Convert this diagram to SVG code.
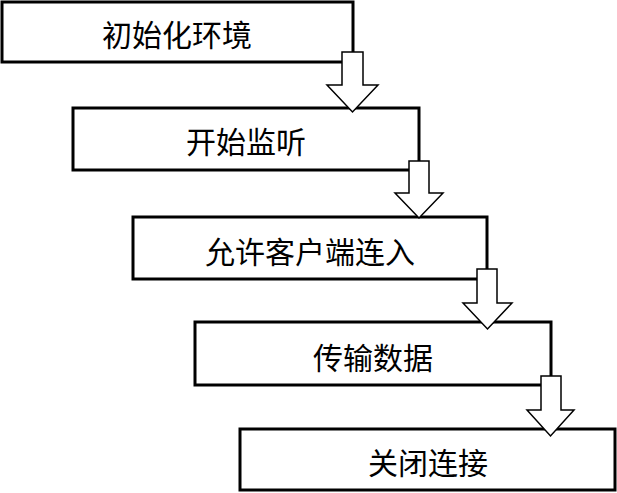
<svg xmlns="http://www.w3.org/2000/svg" width="617" height="493" viewBox="0 0 617 493">
<style>
.box{fill:#fff;stroke:#000;stroke-width:3}
.arr{fill:#fff;stroke:#000;stroke-width:1.5;stroke-linejoin:miter}
.t{font-family:"Liberation Serif","Noto Sans CJK SC",serif;font-size:30px;fill:#000;text-anchor:middle}
</style>
<rect width="617" height="493" fill="#fff"/>
<g id="n1"><rect class="box" x="2" y="2" width="351" height="60"/><text class="t" x="177" y="46">初始化环境</text></g>
<g id="n2"><rect class="box" x="73" y="108" width="346" height="62"/><text class="t" x="246" y="153">开始监听</text></g>
<g id="n3"><rect class="box" x="133" y="217" width="354" height="62"/><text class="t" x="310" y="263">允许客户端连入</text></g>
<g id="n4"><rect class="box" x="195" y="322" width="356" height="63"/><text class="t" x="373" y="369">传输数据</text></g>
<g id="n5"><rect class="box" x="240" y="429" width="375" height="61"/><text class="t" x="428" y="474">关闭连接</text></g>
<g id="connectors">
<polygon class="arr" points="342,52 363,52 363,85 378,85 352.5,112 327,85 342,85"/>
<polygon class="arr" points="409,161 429,161 429,193 443,193 419,218 395,193 409,193"/>
<polygon class="arr" points="477,269 497,269 497,303 512,303 487.5,329 463,303 477,303"/>
<polygon class="arr" points="541,376 561,376 561,410 574,410 550.5,436 527,410 541,410"/>
</g>
</svg>
